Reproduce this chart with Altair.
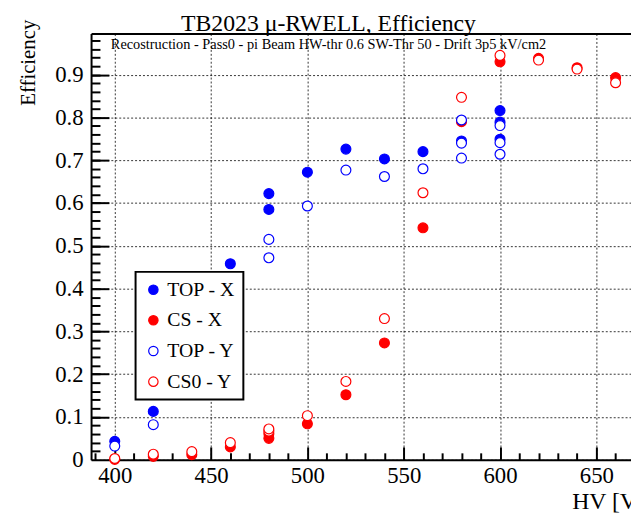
import altair as alt
import pandas as pd

# ---------------- data ----------------
series_names = ["TOP - X", "CS - X", "TOP - Y", "CS0 - Y"]

hv_top_x = [400, 420, 460, 480, 480, 500, 520, 540, 560, 580, 600, 600, 600]
eff_top_x = [0.043, 0.113, 0.458, 0.622, 0.585, 0.672, 0.726, 0.703, 0.720, 0.745, 0.816, 0.789, 0.749]

hv_cs_x = [400, 420, 440, 460, 480, 480, 500, 520, 540, 560, 580, 600, 620, 640, 660]
eff_cs_x = [0.001, 0.008, 0.012, 0.030, 0.050, 0.061, 0.084, 0.152, 0.273, 0.542, 0.790, 0.930, 0.938, 0.916, 0.893]

hv_top_y = [400, 420, 480, 480, 500, 520, 540, 560, 580, 580, 580, 600, 600, 600]
eff_top_y = [0.032, 0.082, 0.515, 0.472, 0.593, 0.677, 0.662, 0.680, 0.794, 0.740, 0.705, 0.781, 0.741, 0.714]

hv_cs0_y = [400, 420, 440, 460, 480, 480, 500, 520, 540, 560, 580, 600, 620, 640, 660]
eff_cs0_y = [0.003, 0.013, 0.019, 0.040, 0.067, 0.072, 0.103, 0.183, 0.330, 0.624, 0.847, 0.945, 0.934, 0.913, 0.881]

x_major = [400, 450, 500, 550, 600, 650]
x_minor = [390, 410, 420, 430, 440, 460, 470, 480, 490, 510, 520, 530, 540, 560,
           570, 580, 590, 610, 620, 630, 640, 660]
y_major = [0.1, 0.2, 0.3, 0.4, 0.5, 0.6, 0.7, 0.8, 0.9]
y_minor = [round(0.02 * i, 2) for i in range(1, 50)]

title_text = "TB2023 \u03bc-RWELL, Efficiency"
note_text = "Recostruction - Pass0 - pi Beam HW-thr 0.6 SW-Thr 50 - Drift 3p5 kV/cm2"

frames = []
for name, hv, eff in [
    ("TOP - X", hv_top_x, eff_top_x),
    ("CS - X", hv_cs_x, eff_cs_x),
    ("TOP - Y", hv_top_y, eff_top_y),
    ("CS0 - Y", hv_cs0_y, eff_cs0_y),
]:
    frames.append(pd.DataFrame({"hv": hv, "eff": eff, "series": name}))
df = pd.concat(frames, ignore_index=True)

# ---------------- styling ----------------
FONT = "'Liberation Serif', 'Times New Roman', Times, serif"
W, H = 546, 431
BLUE, RED = "#0000ff", "#ff0000"

x_scale = alt.Scale(domain=[387.7, 668.0], nice=False, zero=False)
y_scale = alt.Scale(domain=[0, 0.996], nice=False, zero=False)

x_axis_main = alt.Axis(
    values=x_major, format="d", labelFont=FONT, labelFontSize=23, labelColor="black",
    labelPadding=5, labelFlush=False, labelOverlap=False,
    ticks=False, domain=True, domainColor="black", domainWidth=2,
    grid=True, gridDash=[2, 2], gridColor="#000000", gridOpacity=0.8, gridWidth=1,
    title="HV [V]", titleFont=FONT, titleFontSize=24, titleFontWeight="normal",
    titleColor="black", titleAlign="left", titleBaseline="alphabetic",
    titleX=486, titleY=49,
)
y_axis_main = alt.Axis(
    values=[0] + y_major, format="~g", labelFont=FONT, labelFontSize=23, labelColor="black",
    labelPadding=8, labelFlush=False, labelOverlap=False,
    ticks=False, domain=True, domainColor="black", domainWidth=2,
    grid=True, gridDash=[2, 2], gridColor="#000000", gridOpacity=0.8, gridWidth=1,
    title="Efficiency", titleFont=FONT, titleFontSize=21, titleFontWeight="normal",
    titleColor="black", titleAngle=270, titleAlign="center", titleBaseline="middle",
    titleX=-63, titleY=29,
)


def make_legend():
    return alt.Legend(
        title=None, orient="none", legendX=45, legendY=241,
        labelFont=FONT, labelFontSize=20, labelColor="black", labelOffset=4,
        symbolSize=90, symbolStrokeWidth=1.2, symbolType="circle",
        padding=8, rowPadding=11,
        fillColor="white", strokeColor="black",
    )


points = alt.Chart(df).mark_point(opacity=1, size=100, strokeWidth=1.2, shape="circle").encode(
    x=alt.X("hv:Q", scale=x_scale, axis=x_axis_main),
    y=alt.Y("eff:Q", scale=y_scale, axis=y_axis_main),
    color=alt.Color(
        "series:N",
        scale=alt.Scale(domain=series_names, range=[BLUE, RED, BLUE, RED]),
        legend=make_legend(),
    ),
    fill=alt.Fill(
        "series:N",
        scale=alt.Scale(domain=series_names, range=[BLUE, RED, "white", "white"]),
        legend=make_legend(),
    ),
)

ticks_major = alt.Chart(df).mark_point(opacity=0).encode(
    x=alt.X("hv:Q", scale=x_scale, title=None, axis=alt.Axis(
        orient="top", offset=-H, values=x_major, labels=False, domain=False, grid=False,
        ticks=True, tickSize=13, tickWidth=2, tickColor="black")),
    y=alt.Y("eff:Q", scale=y_scale, title=None, axis=alt.Axis(
        orient="right", offset=-W, values=y_major, labels=False, domain=False, grid=False,
        ticks=True, tickSize=18, tickWidth=2, tickColor="black")),
)

ticks_minor = alt.Chart(df).mark_point(opacity=0).encode(
    x=alt.X("hv:Q", scale=x_scale, title=None, axis=alt.Axis(
        orient="top", offset=-H, values=x_minor, labels=False, domain=False, grid=False,
        ticks=True, tickSize=7, tickWidth=2, tickColor="black")),
    y=alt.Y("eff:Q", scale=y_scale, title=None, axis=alt.Axis(
        orient="right", offset=-W, values=y_minor, labels=False, domain=False, grid=False,
        ticks=True, tickSize=9, tickWidth=2, tickColor="black")),
)

top_frame = alt.Chart(df).mark_point(opacity=0).encode(
    x=alt.X("hv:Q", scale=x_scale, title=None, axis=alt.Axis(
        orient="top", offset=0, values=x_major, labels=False, ticks=False, grid=False,
        domain=True, domainColor="black", domainWidth=2)),
    y=alt.Y("eff:Q", scale=y_scale, axis=None),
)

note = alt.Chart(pd.DataFrame({"t": [note_text]})).mark_text(
    font=FONT, fontSize=14.5, color="black", align="left", baseline="alphabetic"
).encode(x=alt.value(20), y=alt.value(16), text="t:N")

title = alt.Chart(pd.DataFrame({"t": [title_text]})).mark_text(
    font=FONT, fontSize=24, color="black", align="left", baseline="alphabetic"
).encode(x=alt.value(91), y=alt.value(-3), text="t:N")

chart = (
    alt.layer(points, ticks_major, ticks_minor, top_frame, note, title)
    .resolve_axis(x="independent", y="independent")
    .properties(
        width=W, height=H,
        autosize=alt.AutoSizeParams(type="none"),
        padding={"left": 84, "top": 23, "right": 0, "bottom": 52},
        background="white",
    )
    .configure_view(stroke=None)
    .configure_legend(strokeWidth=2)
)

chart.save("out.html", embed_options={"renderer": "svg", "actions": False})
